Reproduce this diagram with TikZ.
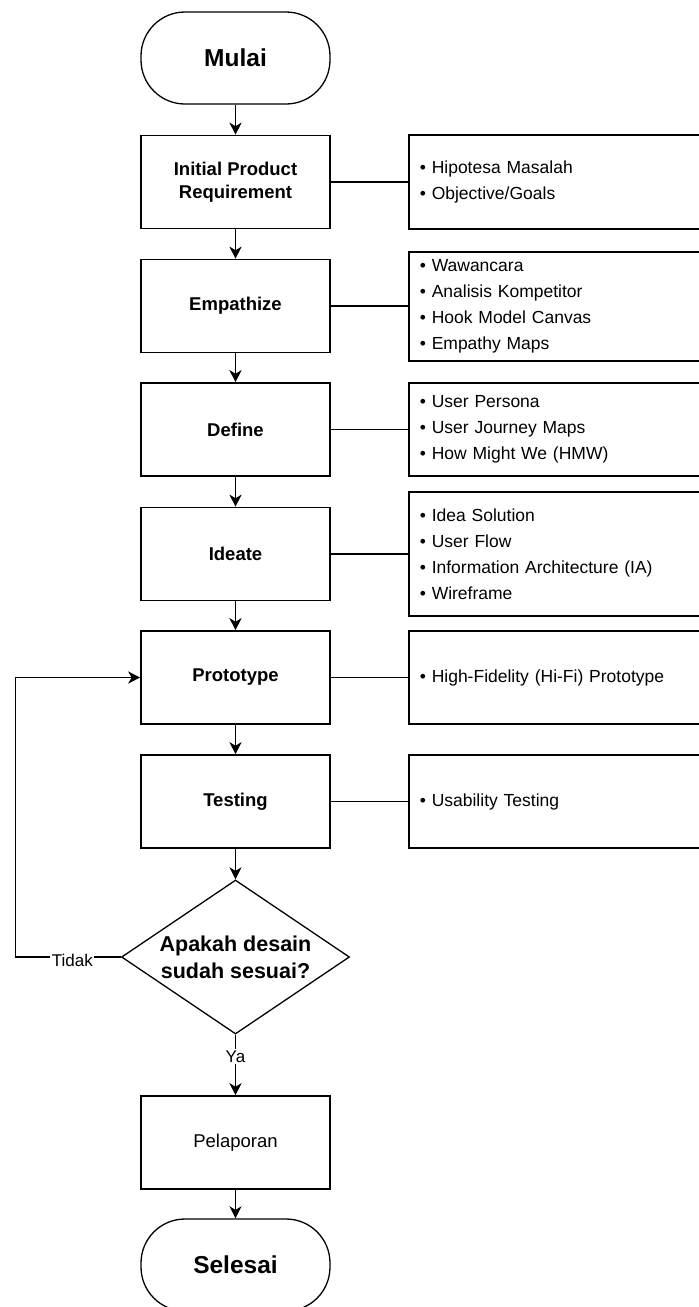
\documentclass[tikz,border=0pt]{standalone}
\usepackage{fontspec}
\setmainfont{Liberation Sans}
\usetikzlibrary{shapes.geometric,arrows.meta}

\begin{document}
\begin{tikzpicture}[x=1pt,y=-1pt,
  line width=1.6pt,
  terminal/.style={draw, rectangle, rounded corners=44pt, minimum width=189pt,
    minimum height=92pt, line width=1.3pt, font=\fontsize{24.5}{28}\selectfont\bfseries},
  stage/.style={draw, rectangle, minimum width=189pt, minimum height=93pt,
    align=center, font=\fontsize{18.5}{23}\selectfont\bfseries},
  plainstage/.style={stage, font=\fontsize{18.5}{23}\selectfont},
  listbox/.style={draw, rectangle, anchor=west, text width=290pt, inner xsep=11pt,
    align=left, font=\fontsize{17.5}{26}\selectfont},
  decision/.style={draw, diamond, aspect=1.48, inner sep=0pt, minimum width=228pt,
    minimum height=154pt, align=center, line width=1.3pt,
    font=\fontsize{21.5}{26.7}\selectfont\bfseries},
  flow/.style={-{Stealth[length=12pt,width=12pt,inset=3.5pt]}},
  tag/.style={fill=white, inner sep=1.5pt, font=\fontsize{17}{20}\selectfont}
]
\useasboundingbox (0,0) rectangle (699,1307);

% main column
\node[terminal] (start) at (235.5,58) {Mulai};
\node[stage] (ipr) at (235.5,182) {Initial Product\\Requirement};
\node[stage] (emp) at (235.5,306) {Empathize};
\node[stage] (def) at (235.5,429.5) {Define};
\node[stage] (ide) at (235.5,554) {Ideate};
\node[stage] (pro) at (235.5,677.5) {Prototype};
\node[stage] (tes) at (235.5,801.5) {Testing};
\node[decision] (dec) at (235.5,957) {Apakah desain\\sudah sesuai?};
\node[plainstage] (pel) at (235.5,1142.5) {Pelaporan};
\node[terminal] (end) at (235.5,1265) {Selesai};

% activity lists on the right
\node[listbox, minimum height=94pt] (r1) at (408,182)
  {\textbullet\ Hipotesa Masalah\\\textbullet\ Objective/Goals};
\node[listbox, minimum height=109pt] (r2) at (408,306.5)
  {\textbullet\ Wawancara\\\textbullet\ Analisis Kompetitor\\\textbullet\ Hook Model Canvas\\\textbullet\ Empathy Maps};
\node[listbox, minimum height=93pt] (r3) at (408,429.5)
  {\textbullet\ User Persona\\\textbullet\ User Journey Maps\\\textbullet\ How Might We (HMW)};
\node[listbox, minimum height=124pt] (r4) at (408,554)
  {\textbullet\ Idea Solution\\\textbullet\ User Flow\\\textbullet\ Information Architecture (IA)\\\textbullet\ Wireframe};
\node[listbox, minimum height=93pt] (r5) at (408,677.5)
  {\textbullet\ High-Fidelity (Hi-Fi) Prototype};
\node[listbox, minimum height=93pt] (r6) at (408,801.5)
  {\textbullet\ Usability Testing};

% flow arrows
\draw[flow] (start) -- (ipr);
\draw[flow] (ipr) -- (emp);
\draw[flow] (emp) -- (def);
\draw[flow] (def) -- (ide);
\draw[flow] (ide) -- (pro);
\draw[flow] (pro) -- (tes);
\draw[flow] (tes) -- (dec);
\draw[flow] (dec.south) -- node[tag, pos=0.36] {Ya} (pel.north);
\draw[flow] (pel) -- (end);

% links to the lists
\foreach \s/\r in {ipr/r1, emp/r2, def/r3, ide/r4, pro/r5, tes/r6}
  \draw (\s.east) -- (\s.east -| \r.west);

% loop back when the design is not yet right
\coordinate (loopc) at (15.5,957);
\draw[flow] (dec.west) -- node[tag, pos=0.46, yshift=-3pt] {Tidak} (dec.west -| loopc)
  |- (pro.west);
\end{tikzpicture}
\end{document}
